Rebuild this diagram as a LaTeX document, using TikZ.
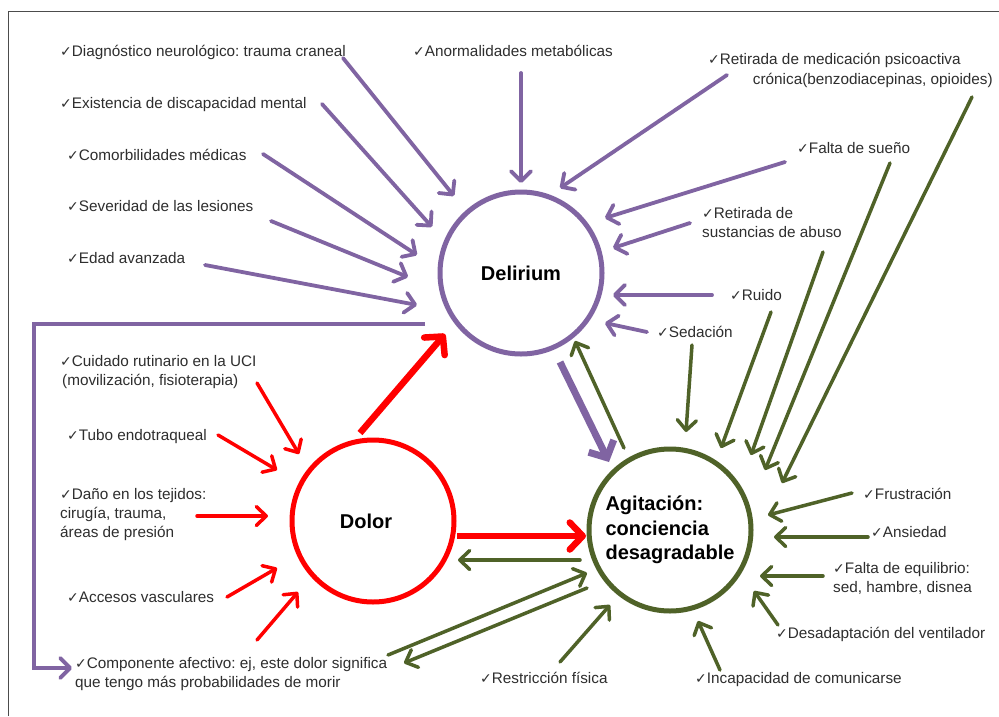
\documentclass[tikz,border=0pt]{standalone}
\usepackage{fontspec}
\setmainfont{Liberation Sans}
\newfontfamily\chkfont{DejaVu Sans}
\usetikzlibrary{arrows.meta}
\definecolor{pur}{HTML}{8064A2}
\definecolor{grn}{HTML}{4F6228}
\definecolor{rd}{HTML}{FF0000}
\definecolor{txt}{HTML}{2E2E2E}
\newcommand{\ck}{{\chkfont\fontsize{14}{14}\selectfont ✓}}
\tikzset{
  lbl/.style={anchor=base west, inner sep=0pt, text=txt, font=\fontsize{15.3}{19}\selectfont, align=left},
  circ/.style={circle, line width=5pt, minimum size=162pt, inner sep=0pt, font=\bfseries\fontsize{20}{24.5}\selectfont, text=black},
  parr/.style={draw=pur, line width=3.8pt, line cap=round, -{Straight Barb[length=10pt,width=20pt,round]}},
  garr/.style={draw=grn, line width=3.5pt, line cap=round, -{Straight Barb[length=10pt,width=19pt,round]}},
  rarr/.style={draw=rd, line width=3.5pt, line cap=round, -{Straight Barb[length=10pt,width=19pt,round]}},
  thickp/.style={draw=pur, line width=7pt, -{Straight Barb[length=13pt,width=28pt]}},
  thickr/.style={draw=rd, line width=6.5pt, -{Straight Barb[length=13pt,width=27pt,round]}},
}
\begin{document}
\begin{tikzpicture}[x=1pt,y=-1pt]
\useasboundingbox (0,0) rectangle (999,716);
\fill[white] (0,0) rectangle (999,716);
\draw[gray!60!black, line width=1pt] (8,716) -- (8,11) -- (999,11);

% circles
\node[circ, draw=pur] (del) at (521,273) {Delirium};
\node[circ, draw=rd] (dol) at (373,521) {\hspace*{-14pt}Dolor};
\node[circ, draw=grn, align=left] (agi) at (670,530) {Agitación:\\conciencia\\desagradable};

% texts (multi-line nodes: base = last line)
\node[lbl] (t1) at (60,56) {\ck Diagnóstico neurológico:\ trauma craneal};
\node[lbl] (t2) at (60,108) {\ck Existencia de discapacidad mental};
\node[lbl] (t3) at (67,160) {\ck Comorbilidades médicas};
\node[lbl] (t4) at (67,211) {\ck Severidad de las lesiones};
\node[lbl] (t5) at (67,263) {\ck Edad avanzada};
\node[lbl] (t6) at (413,56) {\ck Anormalidades metabólicas};
\node[lbl] (t7) at (708,64) {\ck Retirada de medicación psicoactiva};
\node[lbl, anchor=base east] (t7b) at (993,84) {crónica(benzodiacepinas,\ opioides)};
\node[lbl] (t8) at (797,153) {\ck Falta de sueño};
\node[lbl] (t9) at (702,237) {\ck Retirada de\\sustancias de abuso};
\node[lbl] (t10) at (730,300) {\ck Ruido};
\node[lbl] (t11) at (657,337) {\ck Sedación};
\node[lbl] (t12) at (60,385) {\ck Cuidado rutinario en la UCI\\\hspace*{2pt}(movilización,\ fisioterapia)};
\node[lbl] (t13) at (67,440) {\ck Tubo endotraqueal};
\node[lbl] (t14) at (60,537) {\ck Daño en los tejidos:\\cirugía, trauma,\\áreas de presión};
\node[lbl] (t15) at (67,602) {\ck Accesos vasculares};
\node[lbl] (t16) at (75,687) {\ck Componente afectivo:\ ej, este dolor significa\\que tengo más probabilidades\ de morir};
\node[lbl] (t17) at (863,499) {\ck Frustración};
\node[lbl] (t18) at (871,537) {\ck Ansiedad};
\node[lbl] (t19) at (833,592) {\ck Falta de equilibrio:\\sed, hambre,\ disnea};
\node[lbl] (t20) at (776,638) {\ck Desadaptación del ventilador};
\node[lbl] (t21) at (695,683) {\ck Incapacidad de comunicarse};
\node[lbl] (t22) at (480,683) {\ck Restricción física};

% coordinates for arrow ends
\coordinate (p1s) at (343,58);  \coordinate (p1e) at (454,196);
\coordinate (p2s) at (322,104); \coordinate (p2e) at (432,227);
\coordinate (p3s) at (263,154); \coordinate (p3e) at (417,255);
\coordinate (p4s) at (271,221); \coordinate (p4e) at (408,277);
\coordinate (p5s) at (205,265); \coordinate (p5e) at (417,305);
\coordinate (p6s) at (521,73);  \coordinate (p6e) at (521,183);
\coordinate (p7s) at (727,75);  \coordinate (p7e) at (560,188);
\coordinate (p8s) at (785,162); \coordinate (p8e) at (605,218);
\coordinate (p9s) at (690,223); \coordinate (p9e) at (613,248);
\coordinate (p10s) at (712,295); \coordinate (p10e) at (613,295);
\coordinate (p11s) at (647,332); \coordinate (p11e) at (605,323);
\coordinate (lps) at (425,324); \coordinate (lp1) at (34,324); \coordinate (lp2) at (34,668); \coordinate (lpe) at (72,668);
\coordinate (pts) at (560,362); \coordinate (pte) at (609,462);

\coordinate (gads) at (624,448); \coordinate (gade) at (575,341);
\coordinate (gaos) at (580,560); \coordinate (gaoe) at (458,560);
\coordinate (gAs) at (388,655); \coordinate (gAe) at (587,573);
\coordinate (gBs) at (587,588); \coordinate (gBe) at (404,663);
\coordinate (g1s) at (560,662); \coordinate (g1e) at (610,605);
\coordinate (g2s) at (720,670); \coordinate (g2e) at (698,621);
\coordinate (g3s) at (778,625); \coordinate (g3e) at (754,591);
\coordinate (g4s) at (823,576); \coordinate (g4e) at (760,576);
\coordinate (g5s) at (868,537); \coordinate (g5e) at (774,537);
\coordinate (g6s) at (852,493); \coordinate (g6e) at (768,515);
\coordinate (g7s) at (692,345); \coordinate (g7e) at (686,432);
\coordinate (g8s) at (771,312); \coordinate (g8e) at (721,448);
\coordinate (g9s) at (823,252); \coordinate (g9e) at (751,455);
\coordinate (g10s) at (890,163); \coordinate (g10e) at (765,470);
\coordinate (g11s) at (972,97); \coordinate (g11e) at (782,483);

\coordinate (r1s) at (257,383); \coordinate (r1e) at (299,454);
\coordinate (r2s) at (218,435); \coordinate (r2e) at (277,470);
\coordinate (r3s) at (197,516); \coordinate (r3e) at (268,516);
\coordinate (r4s) at (227,597); \coordinate (r4e) at (277,568);
\coordinate (r5s) at (257,640); \coordinate (r5e) at (298,592);
\coordinate (rds) at (360,433); \coordinate (rde) at (445,334);
\coordinate (ras) at (457,536); \coordinate (rae) at (586,536);

% purple arrows
\foreach \i in {1,...,11} {\draw[parr] (p\i s) -- (p\i e);}
\draw[parr, line cap=butt] (lps) -- (lp1) -- (lp2) -- (lpe);
\draw[thickp] (pts) -- (pte);

% green arrows
\draw[garr] (gads) -- (gade);
\draw[garr] (gaos) -- (gaoe);
\draw[garr] (gAs) -- (gAe);
\draw[garr] (gBs) -- (gBe);
\foreach \i in {1,...,11} {\draw[garr] (g\i s) -- (g\i e);}

% red arrows
\foreach \i in {1,...,5} {\draw[rarr] (r\i s) -- (r\i e);}
\draw[thickr] (rds) -- (rde);
\draw[thickr] (ras) -- (rae);
\end{tikzpicture}
\end{document}
